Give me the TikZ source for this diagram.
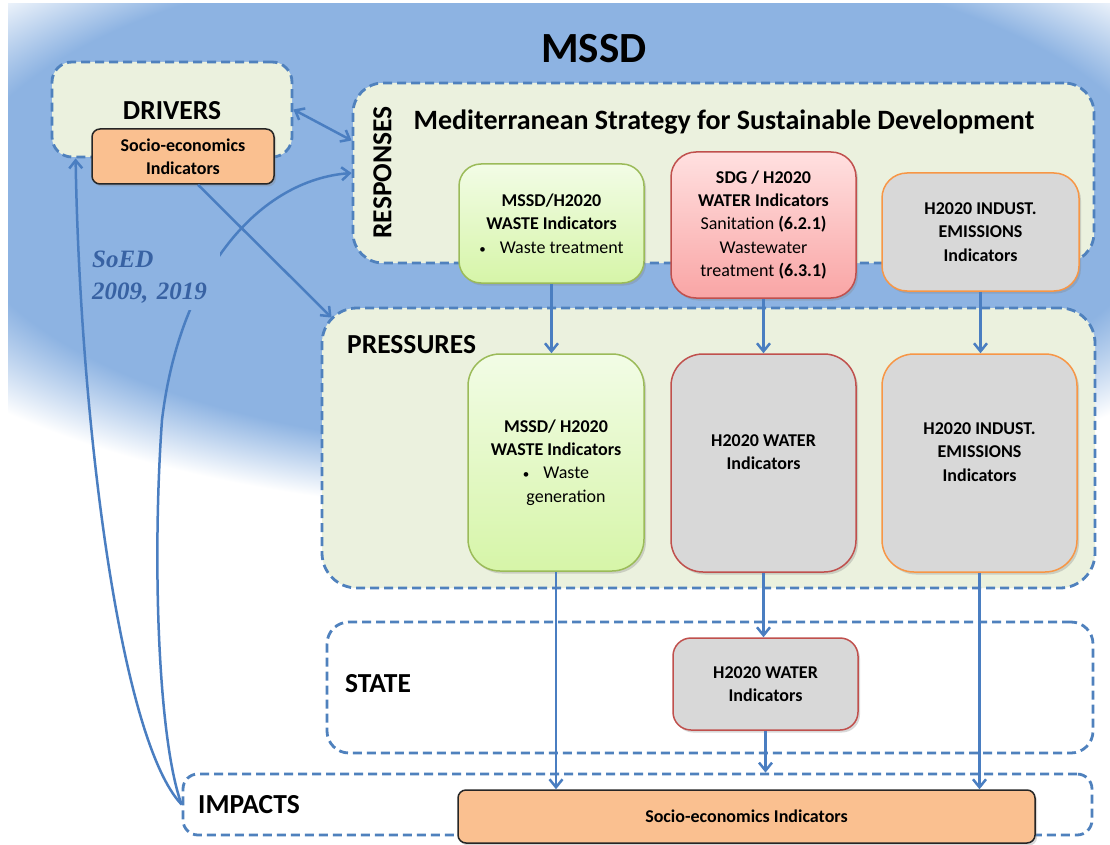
\documentclass[tikz,border=0pt]{standalone}
\usepackage{fontspec}
\setmainfont{Carlito}
\newfontfamily\soedfont{Liberation Serif}
\usetikzlibrary{shapes, arrows.meta, positioning, shadows}

\definecolor{skyblue}{RGB}{141,179,226}
\definecolor{zoneblue}{RGB}{79,129,189}
\definecolor{flowblue}{RGB}{74,126,193}
\definecolor{zonefill}{RGB}{235,241,222}
\definecolor{socioorange}{RGB}{250,192,144}
\definecolor{boxgray}{RGB}{216,216,216}
\definecolor{wasteline}{RGB}{155,187,89}
\definecolor{wastetop}{RGB}{242,252,230}
\definecolor{wastebot}{RGB}{214,245,168}
\definecolor{waterline}{RGB}{192,80,77}
\definecolor{watertop}{RGB}{255,224,224}
\definecolor{waterbot}{RGB}{249,165,165}
\definecolor{indline}{RGB}{247,150,70}
\definecolor{soedblue}{RGB}{56,98,163}

\pgfdeclareradialshading{glow}{\pgfpointorigin}{color(0bp)=(skyblue); color(20bp)=(skyblue); color(25bp)=(white); color(50bp)=(white)}
\newcommand{\smallbullet}{{\fontsize{13}{13}\selectfont\textbullet}}

\begin{document}
\begin{tikzpicture}[x=1pt, y=-1pt, >={Straight Barb[length=8pt, width=13pt]},
    zone/.style={draw=zoneblue, line width=2.8pt, dash pattern=on 9pt off 5pt, rounded corners=25pt, fill=zonefill, inner sep=0pt},
    zonetitle/.style={font=\fontsize{27.5}{30}\selectfont\bfseries, inner sep=0pt},
    boxtext/.style={align=center, inner sep=0pt, font=\fontsize{18}{23.3}\selectfont\bfseries},
    indbox/.style={boxtext, rounded corners=22pt, line width=1.5pt, drop shadow={shadow xshift=2pt, shadow yshift=-2.5pt, opacity=0.3}},
    wastebox/.style={indbox, draw=wasteline, top color=wastetop, bottom color=wastebot},
    waterbox/.style={indbox, draw=waterline, top color=watertop, bottom color=waterbot},
    graybox/.style={indbox, fill=boxgray},
    sociobox/.style={indbox, rounded corners=8pt, draw=black!85, fill=socioorange},
    flow/.style={->, draw=flowblue, line width=2.5pt}]

    \useasboundingbox (0,0) rectangle (1110,845);
    \fill[white] (0,0) rectangle (1110,845);
    \begin{scope}
        \clip (8,4) rectangle (1110,845);
        \shade[shading=glow] (-195,-113) rectangle (1315,513);
    \end{scope}

    % zones
    \node[zone, minimum width=240, minimum height=95, rounded corners=20pt] (drv) at (172,109.5) {};
    \node[zone, minimum width=741, minimum height=180, rounded corners=30pt] (resp) at (723.5,173) {};
    \node[zone, minimum width=773, minimum height=280, rounded corners=35pt] (pres) at (708.5,448) {};
    \node[zone, fill=white, minimum width=766, minimum height=131, rounded corners=22pt] (state) at (710,687.5) {};
    \node[zone, fill=white, minimum width=909, minimum height=61, rounded corners=15pt] (imp) at (637.5,804.5) {};

    % titles
    \node[font=\fontsize{43}{46}\selectfont\bfseries, inner sep=0pt, anchor=base] (mssd) at (594,63) {MSSD};
    \node[zonetitle, anchor=base] (drvtitle) at (172,119.5) {DRIVERS};
    \node[zonetitle, rotate=90] (resptitle) at (382.5,172.5) {RESPONSES};
    \node[zonetitle, font=\fontsize{28}{30}\selectfont\bfseries, anchor=base] (strategy) at (724,130) {Mediterranean Strategy for Sustainable Development};
    \node[zonetitle, anchor=base west] (prestitle) at (347,353) {PRESSURES};
    \node[zonetitle, anchor=base west] (statetitle) at (345,692) {STATE};
    \node[zonetitle, anchor=base west] (imptitle) at (198,813) {IMPACTS};

    % indicator boxes
    \node[sociobox, minimum width=182, minimum height=55] (drvind) at (183,156.5) {Socio-economics\\Indicators};
    \node[wastebox, minimum width=185, minimum height=119] (respwaste) at (551.5,223.5) {MSSD/H2020\\WASTE Indicators\\{\mdseries\smallbullet\hspace{14pt}Waste treatment}};
    \node[waterbox, minimum width=185, minimum height=146, rounded corners=25pt] (respwater) at (763.5,225) {SDG / H2020\\WATER Indicators\\{\mdseries Sanitation} (6.2.1)\\{\mdseries Wastewater}\\{\mdseries treatment} (6.3.1)};
    \node[graybox, draw=indline, minimum width=197, minimum height=118, rounded corners=25pt] (respind) at (980.5,232) {H2020 INDUST.\\EMISSIONS\\Indicators};

    \node[wastebox, minimum width=176, minimum height=217, rounded corners=32pt] (preswaste) at (556,462.5) {MSSD/ H2020\\WASTE Indicators\\{\mdseries\smallbullet\hspace{14pt}Waste}\\{\mdseries\hspace*{20pt}generation}};
    \node[graybox, draw=waterline, minimum width=185, minimum height=218, rounded corners=32pt] (preswater) at (763.5,463) {};
    \node[boxtext] (preswatertext) at (763.5,452) {H2020 WATER\\Indicators};
    \node[graybox, draw=indline, minimum width=195, minimum height=218, rounded corners=32pt] (presind) at (979.5,463) {};
    \node[boxtext] (presindtext) at (979.5,452) {H2020 INDUST.\\EMISSIONS\\Indicators};

    \node[graybox, draw=waterline, minimum width=185, minimum height=92, rounded corners=18pt] (statewater) at (765.5,684) {H2020 WATER\\Indicators};
    \node[sociobox, minimum width=577, minimum height=53] (impind) at (746.5,816.5) {Socio-economics Indicators};

    % connectors
    \draw[flow, <->] (drv.east) -- (resp.175);
    \draw[flow] ([xshift=15pt]drvind.south) -- ([shift={(11,11)}]pres.north west);
    \draw[flow] (imp.west) .. controls (158,740) and (152,560) .. (162,420) .. controls (180,270) and (260,180) .. (resp.west);
    \draw[flow] (imp.west) .. controls (120,740) and (80,420) .. ([xshift=25pt]drv.south west);

    \draw[flow] (respwaste.south) -- (respwaste.south |- preswaste.north);
    \draw[flow] (respwater.south) -- (preswater.north);
    \draw[flow] (respind.south) -- (respind.south |- presind.north);
    \draw[flow] (preswaste.south) -- (preswaste.south |- impind.north);
    \draw[flow] (preswater.south) -- (preswater.south |- statewater.north);
    \draw[flow] (statewater.south) -- (statewater.south |- imp.north);
    \draw[flow] (presind.south) -- (presind.south |- impind.north);

    % SoED label sits over the curve
    \node[align=left, anchor=west, fill=skyblue, text width=124pt, inner xsep=4pt, inner ysep=7pt, text=soedblue, font=\soedfont\fontsize{25}{32}\selectfont\bfseries\itshape] (soed) at (88,277) {SoED\\2009, 2019};
\end{tikzpicture}
\end{document}
